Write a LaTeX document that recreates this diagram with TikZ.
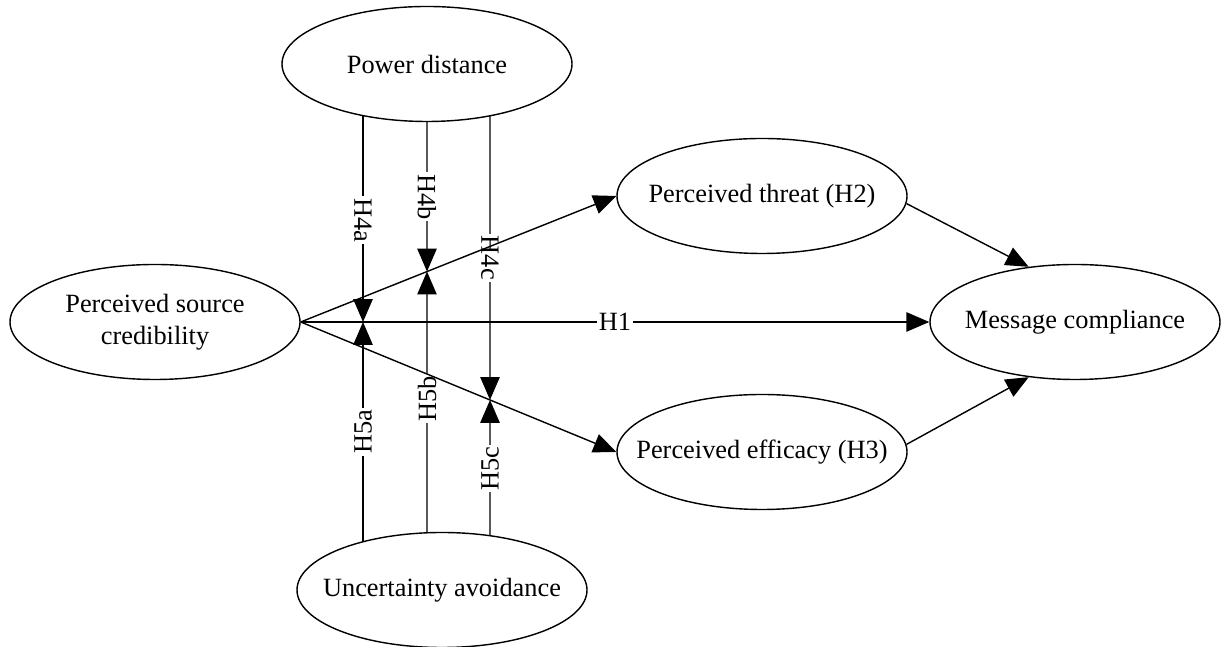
\documentclass[tikz,border=0pt]{standalone}
\usepackage{fontspec}
\setmainfont{Liberation Serif}
\usetikzlibrary{shapes.geometric,arrows.meta,backgrounds}

\tikzset{
    construct/.style={ellipse, draw, fill=white, line width=0.8pt, minimum width=5.8cm, minimum height=2.3cm, inner xsep=-2cm, inner ysep=0pt, align=center, font=\fontsize{15}{18}\selectfont},
    hyp/.style={fill=white, inner sep=1pt, font=\fontsize{15}{18}\selectfont},
    link/.style={->, line width=0.8pt},
    >={Triangle[length=13pt,width=11pt]}
}

\begin{document}
\begin{tikzpicture}
        \useasboundingbox (0,0) rectangle (24.48,12.94);
        \node[construct] (pd) at (8.54,11.66) {Power distance};
        \node[construct] (ua) at (8.84,1.14) {Uncertainty avoidance};
        \node[construct] (src) at (3.10,6.50) {Perceived source\\credibility};
        \node[construct] (threat) at (15.24,9.02) {Perceived threat (H2)};
        \node[construct] (eff) at (15.24,3.90) {Perceived efficacy (H3)};
        \node[construct] (mc) at (21.50,6.50) {Message compliance};
        \draw[link] (src.east) -- (threat.west);
        \draw[link] (src.east) -- (eff.west);
        \draw[link] (src.east) -- (mc.west) node[hyp, pos=0.5]{H1};
        \draw[link] (threat.-3) -- (mc.130);
        \draw[link] (eff.3) -- (mc.-130);
        % crossing points of the moderator lines
        \coordinate (xa) at ([xshift=-1.28cm]pd.center);
        \coordinate (xc) at ([xshift=1.26cm]pd.center);
        \coordinate (xc2) at ([xshift=1.26cm]pd.north);
        \coordinate (ca) at (xa |- src.east);
        \coordinate (cb) at (intersection of src.east--threat.west and pd.south--pd.north);
        \coordinate (cc) at (intersection of src.east--eff.west and xc--xc2);
        \begin{scope}[on background layer]
        \draw[link] (xa) -- (ca) node[hyp, pos=0.605, rotate=-90]{H4a};
        \draw[link] (pd.center) -- (cb) node[hyp, pos=0.64, rotate=-90]{H4b};
        \draw[link] (xc) -- (cc) node[hyp, pos=0.577, rotate=-90]{H4c};
        \draw[link] (xa |- ua.center) -- (ca) node[hyp, pos=0.59, rotate=90]{H5a};
        \draw[link] (pd.center |- ua.center) -- (cb) node[hyp, pos=0.6, rotate=90]{H5b};
        \draw[link] (xc |- ua.center) -- (cc) node[hyp, pos=0.64, rotate=90]{H5c};
        \end{scope}
    \end{tikzpicture}
\end{document}
